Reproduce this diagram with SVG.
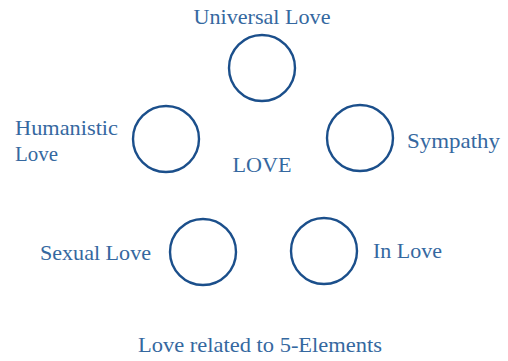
<svg xmlns="http://www.w3.org/2000/svg" width="508" height="361" viewBox="0 0 508 361">
<style>
.c{fill:none;stroke:#1b4f8b;stroke-width:2.4}
.t{font-family:"Liberation Serif","DejaVu Serif",serif;font-size:21px;fill:#3568a0}
</style>
<rect width="508" height="361" fill="#fff"/>
<g id="universal"><circle class="c" cx="262" cy="68" r="33"/><text class="t" x="262" y="24" text-anchor="middle" textLength="137" lengthAdjust="spacingAndGlyphs">Universal Love</text></g>
<g id="humanistic"><circle class="c" cx="166" cy="139" r="33"/><text class="t" x="15" y="135" textLength="103" lengthAdjust="spacingAndGlyphs">Humanistic</text><text class="t" x="15" y="161" textLength="43" lengthAdjust="spacingAndGlyphs">Love</text></g>
<g id="sympathy"><circle class="c" cx="360" cy="138" r="33"/><text class="t" x="407" y="148" textLength="93" lengthAdjust="spacingAndGlyphs">Sympathy</text></g>
<g id="love"><text class="t" x="262" y="172" text-anchor="middle" textLength="59" lengthAdjust="spacingAndGlyphs">LOVE</text></g>
<g id="sexual"><circle class="c" cx="203" cy="252" r="33"/><text class="t" x="40" y="260" textLength="111" lengthAdjust="spacingAndGlyphs">Sexual Love</text></g>
<g id="inlove"><circle class="c" cx="324" cy="251" r="33"/><text class="t" x="373" y="258" textLength="69" lengthAdjust="spacingAndGlyphs">In Love</text></g>
<g id="connectors"/>
<g id="caption"><text class="t" x="260" y="352" text-anchor="middle" textLength="244" lengthAdjust="spacingAndGlyphs">Love related to 5-Elements</text></g>
</svg>
